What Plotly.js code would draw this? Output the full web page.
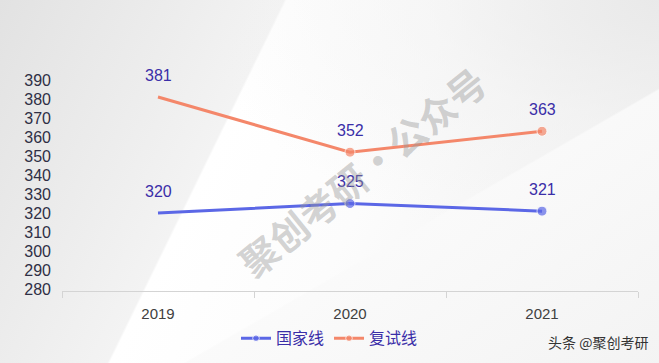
<!DOCTYPE html>
<html><head><meta charset="utf-8">
<script src="https://cdn.plot.ly/plotly-3.0.1.min.js"></script>
<style>
html,body{margin:0;padding:0;}
body{width:659px;height:363px;overflow:hidden;
background:
 linear-gradient(150deg, rgba(255,255,255,0) 0%, rgba(255,255,255,0) 63%, rgba(250,250,250,0.9) 63.3%, rgba(244,244,244,0.9) 100%),
 radial-gradient(ellipse at 100% 0%, rgba(232,232,232,0.9) 0%, rgba(240,240,240,0.5) 25%, rgba(255,255,255,0) 50%),
 linear-gradient(116deg, #e2e2e2 0%, #ececec 20%, #f3f3f3 34%, #ffffff 34.3%, #fcfcfc 55%, #ededed 100%);}
#chart{width:659px;height:363px;}
</style></head>
<body><div id="chart"></div>
<script>
const categories = ["2019", "2020", "2021"];
const nationalLine = [320, 325, 321];
const retestLine = [381, 352, 363];
const seriesNames = ["国家线", "复试线"];
const yTicks = [280, 290, 300, 310, 320, 330, 340, 350, 360, 370, 380, 390];

const labelColor = "#3A2EA8";
const fam = "Liberation Sans, Arial, Noto Sans CJK SC, sans-serif";
const idx = categories.map((c, i) => i);
const bounds = categories.concat([""]).map((c, i) => i - 0.5);

const traces = [
  {x: idx, y: nationalLine, name: seriesNames[0], type: "scatter", mode: "lines+markers",
   line: {color: "#5B67E6", width: 3}, marker: {color: "#5B67E6", size: [0, 10, 10]}},
  {x: idx, y: retestLine, name: seriesNames[1], type: "scatter", mode: "lines+markers",
   line: {color: "#F4876A", width: 3}, marker: {color: "#F4876A", size: [0, 10, 10]}},
  {x: bounds, y: bounds.map(() => 279), xaxis: "x2", yaxis: "y", mode: "none", type: "scatter",
   showlegend: false, hoverinfo: "skip"}
];

const annotations = [];
[nationalLine, retestLine].forEach(series => {
  series.forEach((v, i) => {
    annotations.push({x: idx[i], y: v, xref: "x", yref: "y", text: String(v),
      showarrow: false, yshift: 22, font: {family: fam, size: 16, color: labelColor}});
  });
});
annotations.push({xref: "paper", yref: "paper", x: 0.52, y: 0.56, text: "聚创考研·公众号",
  showarrow: false, textangle: -39, font: {family: "Noto Sans CJK SC", size: 38, color: "rgba(150,150,150,0.42)", weight: 700}});
annotations.push({xref: "paper", yref: "paper", x: 1.02, xanchor: "right", y: -0.24, yanchor: "middle",
  text: "头条 @聚创考研", showarrow: false, font: {family: "Noto Sans CJK SC", size: 14, color: "#333333"}});

const layout = {
  width: 659, height: 363,
  margin: {l: 62, r: 21, t: 78, b: 72, autoexpand: false},
  paper_bgcolor: "rgba(0,0,0,0)", plot_bgcolor: "rgba(0,0,0,0)",
  showlegend: true,
  legend: {orientation: "h", x: 0.5, xanchor: "center", xref: "container", yref: "container", y: 0.068, yanchor: "middle",
    font: {family: "Noto Sans CJK SC", size: 16, color: labelColor}, itemwidth: 30, tracegroupgap: 0},
  xaxis: {range: [-0.5, 2.5], tickvals: idx, ticktext: categories, showline: false, showgrid: false,
    ticks: "", zeroline: false, tickfont: {family: fam, size: 15, color: "#404040"}, ticklabelstandoff: 12, automargin: false},
  xaxis2: {overlaying: "x", anchor: "y", side: "bottom", range: [-0.5, 2.5], tickvals: bounds,
    showticklabels: false, showline: true, linecolor: "#d4d4d4", linewidth: 1, showgrid: false,
    ticks: "outside", ticklen: 6, tickcolor: "#d4d4d4", zeroline: false, automargin: false},
  yaxis: {range: [279, 391], tickvals: yTicks, ticktext: yTicks.map(String), showgrid: false,
    showline: false, zeroline: false, ticks: "", ticklabelstandoff: 10, automargin: false,
    tickfont: {family: fam, size: 16, color: "#2f2f45"}},
  annotations: annotations
};

Plotly.newPlot("chart", traces, layout, {displayModeBar: false, staticPlot: true});
</script></body></html>
